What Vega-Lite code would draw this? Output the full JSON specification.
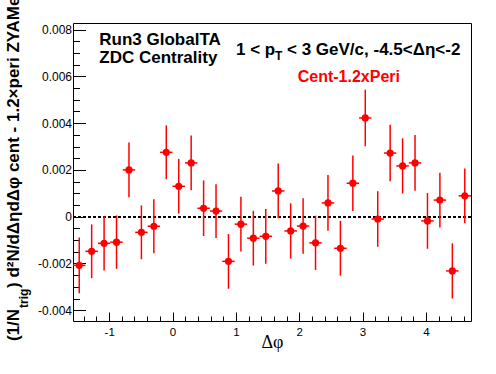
{
  "$schema": "https://vega.github.io/schema/vega-lite/v6.json",
  "width": 398,
  "height": 298,
  "autosize": {"type": "none"},
  "padding": {"left": 73, "top": 23, "right": 25, "bottom": 53},
  "background": "white",
  "config": {
    "view": {"stroke": "black", "strokeWidth": 1},
    "font": "Liberation Sans",
    "axis": {"grid": false, "domain": false, "tickColor": "black", "tickWidth": 1, "labelColor": "black", "labelFlush": false, "labelOverlap": false, "labelBound": false}
  },
  "data": {
    "values": [
      {"phi": -1.4726, "val": -0.00208, "err": 0.00119, "xerr": 0.09817},
      {"phi": -1.2763, "val": -0.00148, "err": 0.00115, "xerr": 0.09817},
      {"phi": -1.0799, "val": -0.00114, "err": 0.00116, "xerr": 0.09817},
      {"phi": -0.8836, "val": -0.00109, "err": 0.00114, "xerr": 0.09817},
      {"phi": -0.6872, "val": 0.00200, "err": 0.00117, "xerr": 0.09817},
      {"phi": -0.4909, "val": -0.00067, "err": 0.00115, "xerr": 0.09817},
      {"phi": -0.2945, "val": -0.00041, "err": 0.00115, "xerr": 0.09817},
      {"phi": -0.0982, "val": 0.00275, "err": 0.00115, "xerr": 0.09817},
      {"phi": 0.0982, "val": 0.00130, "err": 0.00117, "xerr": 0.09817},
      {"phi": 0.2945, "val": 0.00230, "err": 0.00117, "xerr": 0.09817},
      {"phi": 0.4909, "val": 0.00036, "err": 0.00119, "xerr": 0.09817},
      {"phi": 0.6872, "val": 0.00024, "err": 0.00115, "xerr": 0.09817},
      {"phi": 0.8836, "val": -0.00191, "err": 0.00117, "xerr": 0.09817},
      {"phi": 1.0799, "val": -0.00032, "err": 0.00117, "xerr": 0.09817},
      {"phi": 1.2763, "val": -0.00092, "err": 0.00117, "xerr": 0.09817},
      {"phi": 1.4726, "val": -0.00084, "err": 0.00117, "xerr": 0.09817},
      {"phi": 1.6690, "val": 0.00110, "err": 0.00117, "xerr": 0.09817},
      {"phi": 1.8653, "val": -0.00061, "err": 0.00118, "xerr": 0.09817},
      {"phi": 2.0617, "val": -0.00040, "err": 0.00119, "xerr": 0.09817},
      {"phi": 2.2580, "val": -0.00112, "err": 0.00116, "xerr": 0.09817},
      {"phi": 2.4544, "val": 0.00059, "err": 0.00119, "xerr": 0.09817},
      {"phi": 2.6507, "val": -0.00135, "err": 0.00117, "xerr": 0.09817},
      {"phi": 2.8471, "val": 0.00143, "err": 0.00119, "xerr": 0.09817},
      {"phi": 3.0434, "val": 0.00422, "err": 0.00121, "xerr": 0.09817},
      {"phi": 3.2398, "val": -0.00010, "err": 0.00119, "xerr": 0.09817},
      {"phi": 3.4361, "val": 0.00272, "err": 0.00121, "xerr": 0.09817},
      {"phi": 3.6325, "val": 0.00217, "err": 0.00118, "xerr": 0.09817},
      {"phi": 3.8288, "val": 0.00230, "err": 0.00119, "xerr": 0.09817},
      {"phi": 4.0252, "val": -0.00018, "err": 0.00119, "xerr": 0.09817},
      {"phi": 4.2215, "val": 0.00071, "err": 0.00117, "xerr": 0.09817},
      {"phi": 4.4179, "val": -0.00232, "err": 0.00118, "xerr": 0.09817},
      {"phi": 4.6142, "val": 0.00089, "err": 0.00117, "xerr": 0.09817}
    ]
  },
  "resolve": {"axis": {"x": "independent", "y": "independent"}},
  "layer": [
    {
      "mark": {"type": "rule", "color": "black", "strokeWidth": 1, "strokeDash": [3, 2]},
      "encoding": {
        "y": {"datum": 0, "type": "quantitative",
          "scale": {"domain": [-0.00446, 0.00828], "nice": false, "zero": false},
          "axis": {"orient": "left", "values": [-0.004, -0.0035, -0.003, -0.0025, -0.002, -0.0015, -0.001, -0.0005, 0, 0.0005, 0.001, 0.0015, 0.002, 0.0025, 0.003, 0.0035, 0.004, 0.0045, 0.005, 0.0055, 0.006, 0.0065, 0.007, 0.0075, 0.008], "tickSize": -6.5, "labels": false, "title": null}}
      }
    },
    {
      "mark": {"type": "errorbar", "color": "#ff0000", "thickness": 1.5},
      "encoding": {
        "x": {"field": "phi", "type": "quantitative",
          "scale": {"domain": [-1.5708, 4.7124], "nice": false, "zero": false},
          "axis": {"orient": "bottom", "values": [-1.4, -1.2, -1, -0.8, -0.6, -0.4, -0.2, 0, 0.2, 0.4, 0.6, 0.8, 1, 1.2, 1.4, 1.6, 1.8, 2, 2.2, 2.4, 2.6, 2.8, 3, 3.2, 3.4, 3.6, 3.8, 4, 4.2, 4.4, 4.6], "tickSize": -5, "labels": false, "title": null}},
        "xError": {"field": "xerr"},
        "y": {"field": "val", "type": "quantitative",
          "scale": {"domain": [-0.00446, 0.00828], "nice": false, "zero": false},
          "axis": null}
      }
    },
    {
      "mark": {"type": "errorbar", "color": "#ff0000", "thickness": 1.5},
      "encoding": {
        "x": {"field": "phi", "type": "quantitative",
          "scale": {"domain": [-1.5708, 4.7124], "nice": false, "zero": false},
          "axis": {"orient": "bottom", "values": [-1, 0, 1, 2, 3, 4], "tickSize": -9, "labels": false, "title": null}},
        "y": {"field": "val", "type": "quantitative",
          "scale": {"domain": [-0.00446, 0.00828], "nice": false, "zero": false},
          "axis": {"orient": "left", "values": [-0.004, -0.002, 0, 0.002, 0.004, 0.006, 0.008], "tickSize": -12.5, "labels": false, "title": null}},
        "yError": {"field": "err"}
      }
    },
    {
      "mark": {"type": "point", "shape": "circle", "filled": true, "color": "#ff0000", "size": 52, "opacity": 1},
      "encoding": {
        "x": {"field": "phi", "type": "quantitative",
          "scale": {"domain": [-1.5708, 4.7124], "nice": false, "zero": false},
          "axis": {"orient": "bottom", "values": [-1, 0, 1, 2, 3, 4], "ticks": false, "labelPadding": 5, "labelFont": "Liberation Sans", "labelFontSize": 11.5, "labelExpr": "replace(format(datum.value, 'd'), '\u2212', '-')", "title": "Δφ", "titleFont": "Liberation Serif", "titleFontSize": 18, "titleFontWeight": "normal", "titleColor": "black", "titleBaseline": "alphabetic", "titleY": 26}},
        "y": {"field": "val", "type": "quantitative",
          "scale": {"domain": [-0.00446, 0.00828], "nice": false, "zero": false},
          "axis": {"orient": "left", "values": [-0.004, -0.002, 0, 0.002, 0.004, 0.006, 0.008], "ticks": false, "labelPadding": 1.5, "labelFont": "Liberation Sans", "labelFontSize": 12, "labelExpr": "replace(format(datum.value, '.3~f'), '\u2212', '-')", "title": null}}
      }
    },
    {
      "data": {"values": [{}]},
      "mark": {"type": "text", "text": "Run3 GlobalTA", "font": "Liberation Sans", "fontWeight": "bold", "fontSize": 17, "align": "left", "baseline": "alphabetic", "color": "black"},
      "encoding": {
        "x": {"datum": -1.1556, "type": "quantitative", "scale": {"domain": [-1.5708, 4.7124], "nice": false, "zero": false}, "axis": null},
        "y": {"datum": 0.007339, "type": "quantitative", "scale": {"domain": [-0.00446, 0.00828], "nice": false, "zero": false}, "axis": null}
      }
    },
    {
      "data": {"values": [{}]},
      "mark": {"type": "text", "text": "ZDC Centrality", "font": "Liberation Sans", "fontWeight": "bold", "fontSize": 17, "align": "left", "baseline": "alphabetic", "color": "black"},
      "encoding": {
        "x": {"datum": -1.1556, "type": "quantitative", "scale": {"domain": [-1.5708, 4.7124], "nice": false, "zero": false}, "axis": null},
        "y": {"datum": 0.00657, "type": "quantitative", "scale": {"domain": [-0.00446, 0.00828], "nice": false, "zero": false}, "axis": null}
      }
    },
    {
      "data": {"values": [{}]},
      "mark": {"type": "text", "text": "1 < p", "font": "Liberation Sans", "fontWeight": "bold", "fontSize": 17, "align": "left", "baseline": "alphabetic", "color": "black"},
      "encoding": {
        "x": {"datum": 1.0026, "type": "quantitative", "scale": {"domain": [-1.5708, 4.7124], "nice": false, "zero": false}, "axis": null},
        "y": {"datum": 0.006912, "type": "quantitative", "scale": {"domain": [-0.00446, 0.00828], "nice": false, "zero": false}, "axis": null}
      }
    },
    {
      "data": {"values": [{}]},
      "mark": {"type": "text", "text": "T", "font": "Liberation Sans", "fontWeight": "bold", "fontSize": 12, "align": "left", "baseline": "alphabetic", "color": "black"},
      "encoding": {
        "x": {"datum": 1.6183, "type": "quantitative", "scale": {"domain": [-1.5708, 4.7124], "nice": false, "zero": false}, "axis": null},
        "y": {"datum": 0.006698, "type": "quantitative", "scale": {"domain": [-0.00446, 0.00828], "nice": false, "zero": false}, "axis": null}
      }
    },
    {
      "data": {"values": [{}]},
      "mark": {"type": "text", "text": "< 3 GeV/c, -4.5<Δη<-2", "font": "Liberation Sans", "fontWeight": "bold", "fontSize": 17, "align": "left", "baseline": "alphabetic", "color": "black"},
      "encoding": {
        "x": {"datum": 1.8077, "type": "quantitative", "scale": {"domain": [-1.5708, 4.7124], "nice": false, "zero": false}, "axis": null},
        "y": {"datum": 0.006912, "type": "quantitative", "scale": {"domain": [-0.00446, 0.00828], "nice": false, "zero": false}, "axis": null}
      }
    },
    {
      "data": {"values": [{}]},
      "mark": {"type": "text", "text": "Cent-1.2xPeri", "font": "Liberation Sans", "fontWeight": "bold", "fontSize": 16, "align": "left", "baseline": "alphabetic", "color": "#ff0000"},
      "encoding": {
        "x": {"datum": 1.9767, "type": "quantitative", "scale": {"domain": [-1.5708, 4.7124], "nice": false, "zero": false}, "axis": null},
        "y": {"datum": 0.00577, "type": "quantitative", "scale": {"domain": [-0.00446, 0.00828], "nice": false, "zero": false}, "axis": null}
      }
    },
    {
      "data": {"values": [{}]},
      "mark": {"type": "text", "text": "(1/N", "font": "Liberation Sans", "fontWeight": "bold", "fontSize": 17, "align": "left", "baseline": "alphabetic", "angle": 270, "color": "black"},
      "encoding": {
        "x": {"datum": -2.4155, "type": "quantitative", "scale": {"domain": [-1.5708, 4.7124], "nice": false, "zero": false}, "axis": null},
        "y": {"datum": -0.005315, "type": "quantitative", "scale": {"domain": [-0.00446, 0.00828], "nice": false, "zero": false}, "axis": null}
      }
    },
    {
      "data": {"values": [{}]},
      "mark": {"type": "text", "text": "trig", "font": "Liberation Sans", "fontWeight": "bold", "fontSize": 12, "align": "left", "baseline": "alphabetic", "angle": 270, "color": "black"},
      "encoding": {
        "x": {"datum": -2.2813, "type": "quantitative", "scale": {"domain": [-1.5708, 4.7124], "nice": false, "zero": false}, "axis": null},
        "y": {"datum": -0.003904, "type": "quantitative", "scale": {"domain": [-0.00446, 0.00828], "nice": false, "zero": false}, "axis": null}
      }
    },
    {
      "data": {"values": [{}]},
      "mark": {"type": "text", "text": ") d²N/dΔηdΔφ cent - 1.2×peri ZYAMed", "font": "Liberation Sans", "fontWeight": "bold", "fontSize": 17, "align": "left", "baseline": "alphabetic", "angle": 270, "color": "black"},
      "encoding": {
        "x": {"datum": -2.4155, "type": "quantitative", "scale": {"domain": [-1.5708, 4.7124], "nice": false, "zero": false}, "axis": null},
        "y": {"datum": -0.003049, "type": "quantitative", "scale": {"domain": [-0.00446, 0.00828], "nice": false, "zero": false}, "axis": null}
      }
    }
  ]
}
